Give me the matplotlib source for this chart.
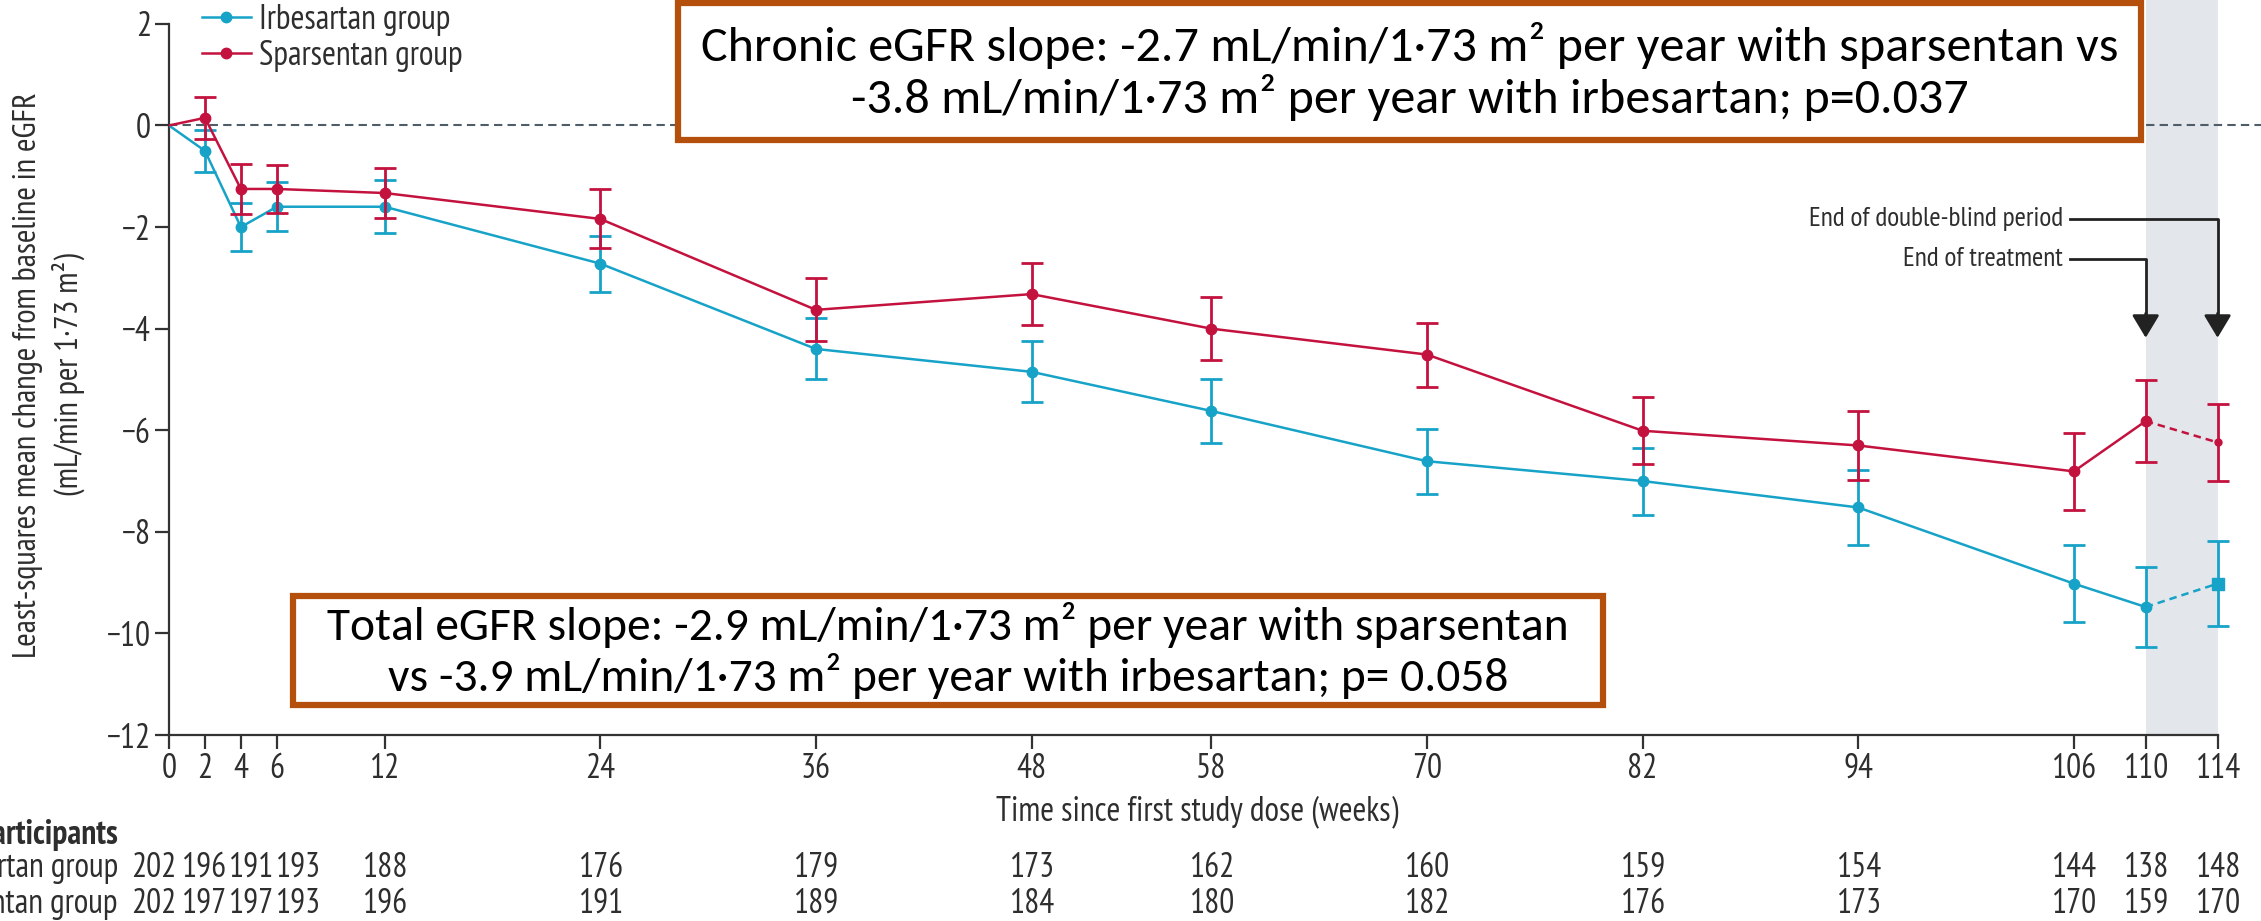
import matplotlib
matplotlib.use("Agg")
import matplotlib.pyplot as plt
from matplotlib import font_manager, transforms
from matplotlib.patches import Rectangle
from matplotlib.lines import Line2D

# eGFR change from baseline, least-squares means with 95% CI half-widths
weeks = [0, 2, 4, 6, 12, 24, 36, 48, 58, 70, 82, 94, 106, 110, 114]
irb_mean = [0, -0.5, -2.0, -1.6, -1.6, -2.72, -4.4, -4.85, -5.62, -6.61, -7.0, -7.52, -9.02, -9.48, -9.02]
irb_err = [0, 0.42, 0.48, 0.48, 0.52, 0.55, 0.6, 0.6, 0.63, 0.64, 0.66, 0.74, 0.76, 0.78, 0.84]
spa_mean = [0, 0.15, -1.25, -1.25, -1.33, -1.84, -3.63, -3.32, -4.0, -4.51, -6.01, -6.3, -6.81, -5.82, -6.24]
spa_err = [0, 0.42, 0.5, 0.47, 0.5, 0.58, 0.62, 0.61, 0.62, 0.63, 0.66, 0.68, 0.76, 0.8, 0.75]

irb_n = [202, 196, 191, 193, 188, 176, 179, 173, 162, 160, 159, 154, 144, 138, 148]
spa_n = [202, 197, 197, 193, 196, 191, 189, 184, 180, 182, 176, 173, 170, 159, 170]

yticks = [2, 0, -2, -4, -6, -8, -10, -12]

chronic_txt = ("Chronic eGFR slope: -2.7 mL/min/1·73 m² per year with sparsentan vs\n"
               "-3.8 mL/min/1·73 m² per year with irbesartan; p=0.037")
total_txt = ("Total eGFR slope: -2.9 mL/min/1·73 m² per year with sparsentan\n"
             "vs -3.9 mL/min/1·73 m² per year with irbesartan; p= 0.058")
xlabel_txt = "Time since first study dose (weeks)"
ylabel_txt = ["Least-squares mean change from baseline in eGFR", "(mL/min per 1·73 m²)"]

BLUE = "#17a3c8"
RED = "#c4123f"
INK = "#2e2e2e"
BOX = "#b4500c"


def pick_font(prefs, fallback):
    for name in prefs:
        for f in font_manager.fontManager.ttflist:
            if f.name == name and f.style == "normal" and str(f.weight) in ("400", "normal", "regular"):
                return dict(family=name, stretch=f.stretch)
    return fallback


narrow = pick_font(["PT Sans Narrow", "Fira Sans Condensed", "Roboto Condensed",
                    "Liberation Sans Narrow", "IBM Plex Sans Condensed"],
                   dict(family="DejaVu Sans", stretch="condensed"))
box_font = pick_font(["Carlito", "Calibri", "Lato"], dict(family="DejaVu Sans"))

W, H = 2261, 921
fig = plt.figure(figsize=(W / 100, H / 100), dpi=100)
renderer = fig.canvas.get_renderer()


def fit_size(txt, width_px, props, ref=20):
    t = fig.text(0, 0, txt, fontsize=ref, **props)
    w = t.get_window_extent(renderer).width
    t.remove()
    return ref * width_px / w


fs_tick = fit_size("106", 45, narrow)
fs_leg = fit_size("Irbesartan group", 192, narrow)
fs_xlab = fit_size(xlabel_txt, 402, narrow)
fs_ylab = fit_size(ylabel_txt[0], 564, narrow)
fs_ann = fit_size("End of double-blind period", 255, narrow)

x0, x_axis = 169, 735
ax = fig.add_axes([x0 / W, 1 - x_axis / H, (W - x0) / W, x_axis / H])
ax.set_xlim(0, (W - x0) / 17.97)
ax.set_ylim(-12, 2.47)

for s in ["top", "right"]:
    ax.spines[s].set_visible(False)
ax.spines["left"].set_bounds(-12, 2)
ax.spines["bottom"].set_bounds(0, 114)
for s in ["left", "bottom"]:
    ax.spines[s].set_color("#333333")
    ax.spines[s].set_linewidth(1.6)

ax.set_xticks(weeks)
ax.set_xticklabels([str(w) for w in weeks], fontsize=fs_tick, color=INK, **narrow)
ax.set_yticks(yticks)
ax.set_yticklabels([str(v).replace("-", "\u2212") for v in yticks], fontsize=fs_tick, color=INK, **narrow)
ax.tick_params(length=10, width=1.6, color="#333333", pad=3)

# shaded off-treatment window and the zero reference line
ax.axvspan(110, 114, color="#e3e6ea", zorder=0, lw=0)
ax.axhline(0, color="#4f5d68", lw=1.5, ls=(0, (4, 2.5)), zorder=1)


def draw_group(mean, err, color, last_marker, last_ms, z):
    ax.plot(weeks[:14], mean[:14], color=color, lw=1.8, zorder=z)
    ax.plot(weeks[13:], mean[13:], color=color, lw=1.8, ls=(0, (3, 2)), zorder=z)
    ax.errorbar(weeks[1:], mean[1:], yerr=err[1:], fmt="none", ecolor=color,
                elinewidth=2.0, capsize=8, capthick=2.0, zorder=z)
    ax.plot(weeks[1:14], mean[1:14], "o", color=color, ms=7.5, zorder=z + 0.1)
    ax.plot(weeks[14:], mean[14:], last_marker, color=color, ms=last_ms, zorder=z + 0.1)


draw_group(irb_mean, irb_err, BLUE, "s", 8, 3)
draw_group(spa_mean, spa_err, RED, "o", 5, 4)

handles = [Line2D([], [], color=BLUE, lw=1.8, marker="o", ms=7.5),
           Line2D([], [], color=RED, lw=1.8, marker="o", ms=7.5)]
ax.legend(handles, ["Irbesartan group", "Sparsentan group"], loc="upper left",
          bbox_to_anchor=(0.0158, 0.995), frameon=False, handlelength=1.45,
          handletextpad=0.25, labelspacing=0.12, borderpad=0, borderaxespad=0,
          prop=font_manager.FontProperties(size=fs_leg, **narrow), labelcolor=INK)

# period markers
ann_font = dict(fontsize=fs_ann, color=INK, ha="right", va="center", **narrow)
ax.text(105.4, -1.85, "End of double-blind period", **ann_font)
ax.text(105.4, -2.62, "End of treatment", **ann_font)
for y_txt, x_end in [(-1.85, 114), (-2.62, 110)]:
    ax.plot([105.8, x_end, x_end], [y_txt, y_txt, -3.8], color="#222222", lw=2, zorder=5)
    ax.annotate("", xy=(x_end, -4.18), xytext=(x_end, -3.7),
                arrowprops=dict(arrowstyle="-|>,head_length=0.7,head_width=0.42",
                                color="#222222", lw=2, shrinkA=0, shrinkB=0,
                                mutation_scale=20), zorder=5)

# axis titles
fig.text(1197 / W, 1 - 812 / H, xlabel_txt,
         fontsize=fs_xlab, color=INK, ha="center", va="center", **narrow)
fig.text(49 / W, 1 - 375 / H, "\n".join(ylabel_txt),
         rotation=90, fontsize=fs_ylab, color=INK, ha="center", va="center",
         linespacing=1.3, **narrow)

# numbers at risk
tr = transforms.blended_transform_factory(ax.transData, fig.transFigure)
n_pos = [-0.85, 1.95, 4.55, 7.15] + weeks[4:]
row_y = [1 - 868 / H, 1 - 904 / H]
lab_x = 118 / W
fig.text(lab_x, 1 - 835 / H, "Number of participants", fontsize=fs_tick, color=INK,
         fontweight="bold", ha="right", va="center", **narrow)
for y, label, counts in [(row_y[0], "Irbesartan group", irb_n), (row_y[1], "Sparsentan group", spa_n)]:
    fig.text(lab_x, y, label, fontsize=fs_tick, color=INK, ha="right", va="center", **narrow)
    for x, n in zip(n_pos, counts):
        fig.text(x, y, str(n), transform=tr, fontsize=fs_tick, color=INK,
                 ha="center", va="center", **narrow)

# slope summary boxes
for (left, top, right, bottom), txt, width in [
        ((678, 3, 2141, 140), chronic_txt, 1415),
        ((293, 596, 1603, 705), total_txt, 1243)]:
    fig.patches.append(Rectangle((left / W, 1 - bottom / H), (right - left) / W, (bottom - top) / H,
                                 transform=fig.transFigure, facecolor="white",
                                 edgecolor=BOX, lw=4.5, zorder=10))
    size = fit_size(txt, width, box_font)
    fig.text((left + right) / 2 / W, 1 - (top + bottom) / 2 / H, txt,
             ha="center", va="center", multialignment="center", fontsize=size,
             color="black", linespacing=1.15, zorder=11, **box_font)

fig.savefig("out.png", dpi=100)
